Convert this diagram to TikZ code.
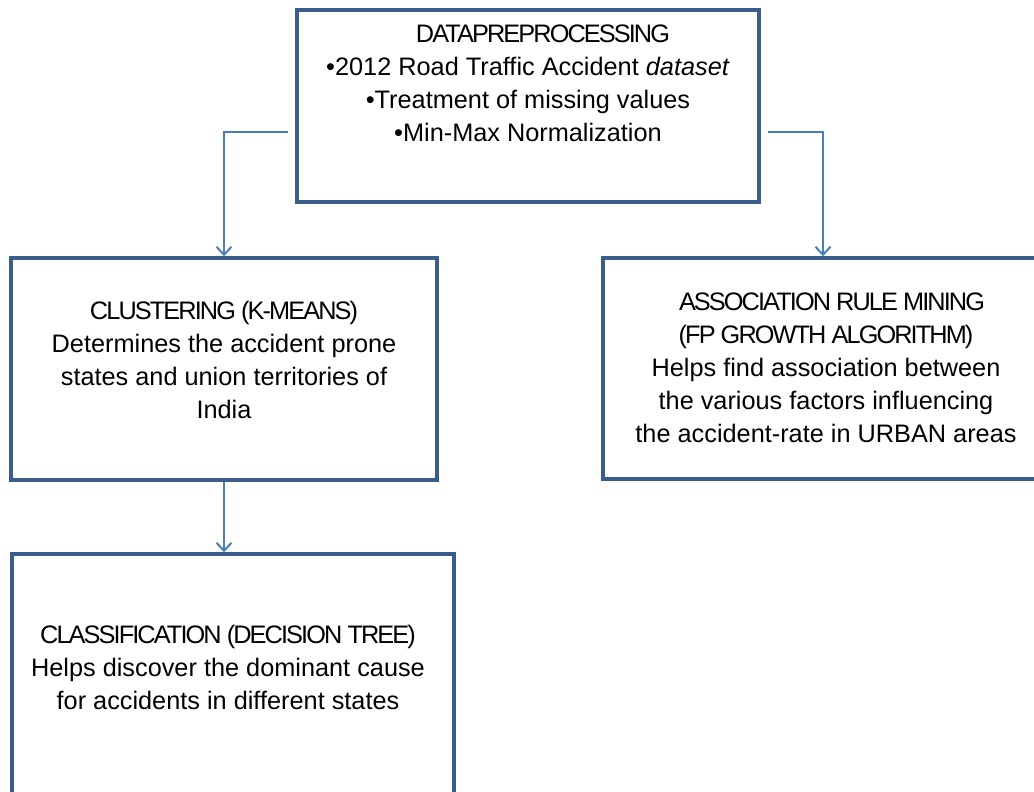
\documentclass[tikz,border=0pt]{standalone}
\usepackage{fontspec}
\setmainfont{Liberation Sans}
\newfontfamily\headfont[LetterSpace=-7.5]{Liberation Sans}
\usepackage{tikz}
\usetikzlibrary{arrows.meta, positioning, calc}
\usepackage{xcolor}
\definecolor{frame}{HTML}{385D8A}
\definecolor{link}{HTML}{4A7EBB}

\begin{document}
\begin{tikzpicture}[x=1pt, y=-1pt,
      stage/.style={draw=frame, line width=3.6pt, fill=white, inner sep=0pt},
      txt/.style={align=center, font=\fontsize{25.3}{33}\selectfont, inner sep=0pt},
      conn/.style={draw=link, line width=2pt, -{Straight Barb[length=8pt, width=15pt, line width=2pt]}}
    ]
      \useasboundingbox (0,0) rectangle (1034,792);
      \clip (0,0) rectangle (1034,792);
      \fill[white] (0,0) rectangle (1034,792);

      \node[stage, minimum width=462pt, minimum height=192pt] (prep) at (528,106) {};
      \node[txt] (preptxt) at (528,83) {\hspace*{30pt}{\headfont DATAPREPROCESSING}\\
        •2012 Road Traffic Accident \textit{dataset}\\
        •Treatment of missing values\\
        •Min-Max Normalization};

      \node[stage, minimum width=426pt, minimum height=222pt] (clust) at (224,369) {};
      \node[txt] (clusttxt) at (224,360) {{\headfont CLUSTERING (K-MEANS)}\\
        Determines the accident prone\\
        states and union territories of\\
        India};

      \node[stage, minimum width=440pt, minimum height=221pt] (assoc) at (823,368.5) {};
      \node[txt] (assoctxt) at (826,368) {\hspace*{12pt}{\headfont ASSOCIATION RULE MINING}\\
        {\headfont (FP GROWTH ALGORITHM)}\\
        Helps find association between\\
        the various factors influencing\\
        the accident-rate in URBAN areas};

      \node[stage, minimum width=442pt, minimum height=270pt] (classif) at (233,689) {};
      \node[txt] (classiftxt) at (228,667) {{\headfont CLASSIFICATION (DECISION TREE)}\\
        Helps discover the dominant cause\\
        for accidents in different states};

      % connectors
      \coordinate (prepL) at (288,132);
      \coordinate (prepR) at (768,132);
      \draw[conn] (prepL) -| (clust.north);
      \draw[conn] (prepR) -| (assoc.north);
      \draw[conn] (clust.south) -- (clust.south |- classif.north);
    \end{tikzpicture}
\end{document}
